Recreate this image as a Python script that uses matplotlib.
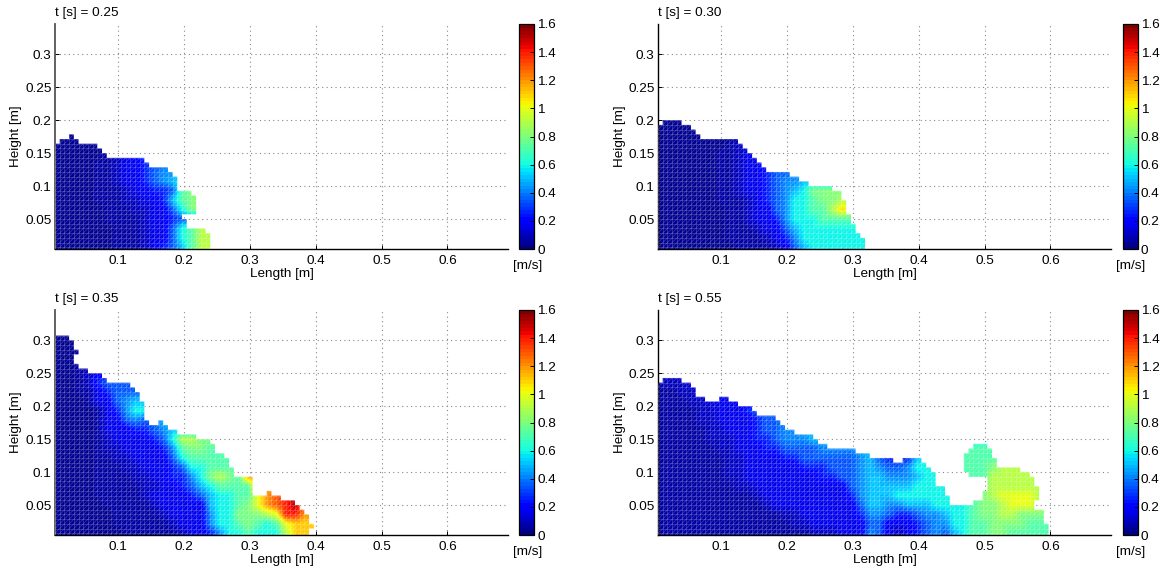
import numpy as np
import matplotlib
matplotlib.use("Agg")
import matplotlib.pyplot as plt
from matplotlib.collections import LineCollection
from matplotlib.colors import ListedColormap
from matplotlib.path import Path

plt.rcParams['font.family'] = ['Liberation Sans', 'DejaVu Sans']
FS = 9.7

# each character of a speed row is one estimated speed class
SPEED_CODES = '0123456789abcdefgh'
SPEED_LEVELS = [.03, .06, .1, .16, .25, .35, .42, .5, .6, .72, .8, .9, 1.0, 1.1, 1.2, 1.3, 1.4, 1.5]

TITLES = ['t [s] = 0.25', 't [s] = 0.30', 't [s] = 0.35', 't [s] = 0.55']
X_TICKS = [.1, .2, .3, .4, .5, .6]
X_LABELS = ['0.1', '0.2', '0.3', '0.4', '0.5', '0.6']
Y_TICKS = [.05, .1, .15, .2, .25, .3]
Y_LABELS = ['0.05', '0.1', '0.15', '0.2', '0.25', '0.3']
CB_TICKS = [0, .2, .4, .6, .8, 1, 1.2, 1.4, 1.6]
CB_LABELS = ['0', '0.2', '0.4', '0.6', '0.8', '1', '1.2', '1.4', '1.6']

# free-surface height per run of columns (in cells)
WIDTHS_025 = [1,2,1,1,4,1,1,8,1,4,1,1,3,1,2,1]
TOPS_025 = [23,24,25,24,23,22,21,20,19,18,17,16,13,12,5,4]
HOLES_025 = [(27,28,7,8),(28,30,5,8)]
SPEED_025 = [
 "00",
 "00000",
 "0000011345",
 "0000112334556",
 "0000112334566",
 "00001123345678",
 "00001112334459a",
 "00001112233479a",
 "00000111223358a",
 "00000111123345",
 "000000111233589bb",
 "000000111233589bb",
 "000000111234579bb",
]

WIDTHS_030 = [1,4,2,1,1,8,1,1,1,1,1,1,5,2,2,5,2,1,1,1,1,1]
TOPS_030 = [27,28,27,26,25,24,23,22,21,20,19,18,17,16,15,14,13,11,8,6,4,3]
HOLES_030 = []
SPEED_030 = [
 "000",
 "000000",
 "00000",
 "0000000122",
 "00000011233",
 "000000112334",
 "0000001123345566",
 "00000011233456677",
 "0000001123345678aaaa",
 "00000011123456889aab",
 "000000011233568899bdb",
 "000000011233468889999",
 "0000000111233578888888",
 "0000000111123468888888",
 "0000000011112357888888",
]

WIDTHS_035 = [3,1,1,2,3,1,5,1,1,1,1,2,1,1,2,4,3,1,2,1,1,4,3,1,2,3,1,1,1,1]
TOPS_035 = [43,42,40,36,35,34,33,32,31,29,25,24,25,24,23,22,21,20,18,17,15,13,9,10,9,8,7,6,5,3]
HOLES_035 = [(4,5,37,39),(54,55,0,2)]
SPEED_035 = [
 "00",
 "00",
 "001",
 "001",
 "00123",
 "001245",
 "001134555",
 "0001335677",
 "0000134688",
 "000013356557",
 "0000133344567",
 "00001233334" "58bbaa",
 "000012233334" "69aa99",
 "0000112233335899999",
 "0000111223334588999",
 "000011112233446" "8aba9e",
 "000011111223345" "789999ee",
 "00001111123333" "4578899cefgh",
 "00000111112333337" "889acefghf",
 "00000011111233336" "88aaabcgge",
 "00000011111123336" "889a989cddd",
 "00000001111112334" "688988" "8bdd",
]

WIDTHS_055 = [1,4,2,1,2,3,2,2,3,1,4,1,1,2,4,1,2,6,3,5,2,4,1,1,1,2,1,3,1,1,3,1,1,5,2,1,1,1,1]
TOPS_055 = [33,34,33,32,30,29,30,29,28,27,26,25,24,23,22,21,20,19,18,17,16,17,16,15,14,11,9,7,18,19,20,19,17,15,14,13,11,6,3]
HOLES_055 = [(65,66,7,14),(66,67,7,13),(67,69,8,13),(69,70,10,13),(80,81,6,8)]
SPEED_055 = [
 "2223",
 "11222333",
 "1112233333",
 "1111223334555",
 "11112233334556",
 "11111223334556677",
 "111112223344566677",
 "11111122333445555666677" "7777777799999",
 "11111112233334455555567544478" "88999999",
 "111111122333333444555676556888" "89999abbbb",
 "11111112233333333445567766678888999bbbbbb",
 "11111111223333333333567777788888" "99abbbbbb",
 "1111111111233333333346777888888899abccccb",
 "11111111111233333333357766777888" "89aabcccba",
 "1111111111111223333334" "66544566788" "9aabbaaaa",
 "11111111111111223333335533345668899aaaa999",
 "1111111111111111222333" "65323456" "57899aa99999",
]

PANELS = [
    (WIDTHS_025, TOPS_025, HOLES_025, SPEED_025),
    (WIDTHS_030, TOPS_030, HOLES_030, SPEED_030),
    (WIDTHS_035, TOPS_035, HOLES_035, SPEED_035),
    (WIDTHS_055, TOPS_055, HOLES_055, SPEED_055),
]

CELL = 1 / 140
X0, X1 = .0043, .692
Y0, Y1 = .0045, .346
W, H = 1164, 572
LEFTS = [55, 658]
CB_LEFTS = [519.3, 1123]
BOTTOMS = [249, 535]
AX_W, AX_H = 453, 225

jet = plt.get_cmap('jet')
cmap = ListedColormap(jet(np.linspace(0, 1, 64)))
levels = dict(zip(SPEED_CODES, SPEED_LEVELS))


def speed_grid(rows):
    width = max(len(r) for r in rows)
    grid = [[levels[c] for c in r.ljust(width, r[-1])] for r in rows]
    return np.array(grid)[::-1]


def cell_mask(widths, tops, holes):
    col_tops = np.repeat(tops, widths)
    mask = np.zeros((max(tops), len(col_tops)), bool)
    for c, t in enumerate(col_tops):
        mask[:t, c] = True
    for c0, c1, k0, k1 in holes:
        mask[k0:k1, c0:c1] = False
    return mask


def rect(c, k):
    x, y = X0 + c * CELL, k * CELL
    return Path([(x, y), (x + CELL, y), (x + CELL, y + CELL), (x, y + CELL), (x, y)], closed=True)


fig = plt.figure(figsize=(W / 100, H / 100), dpi=100)
for i, (widths, tops, holes, rows) in enumerate(PANELS):
    col, row = i % 2, i // 2
    l, b = LEFTS[col], BOTTOMS[row]
    ax = fig.add_axes([l / W, (H - b) / H, AX_W / W, AX_H / H])
    grid = speed_grid(rows)
    ny, nx = grid.shape
    im = ax.imshow(grid, origin='lower', cmap=cmap, vmin=0, vmax=1.6, aspect='auto',
                   interpolation='bilinear', zorder=2,
                   extent=[X0, X0 + 2 * nx * CELL, 0, 2 * ny * CELL])
    ax.set_xlim(X0, X1)
    ax.set_ylim(Y0, Y1)
    mask = cell_mask(widths, tops, holes)
    ks, cs = np.nonzero(mask)
    clip = Path.make_compound_path(*[rect(c, k) for c, k in zip(cs, ks)])
    im.set_clip_path(clip, transform=ax.transData)
    segs = []
    for c, k in zip(cs, ks):
        x, y = X0 + c * CELL, k * CELL
        segs += [[(x, y), (x + CELL, y)], [(x, y), (x, y + CELL)],
                 [(x, y), (x + CELL, y + CELL)]]
        if c + 1 >= mask.shape[1] or not mask[k, c + 1]:
            segs.append([(x + CELL, y), (x + CELL, y + CELL)])
        if k + 1 >= mask.shape[0] or not mask[k + 1, c]:
            segs.append([(x, y + CELL), (x + CELL, y + CELL)])
    ax.add_collection(LineCollection(segs, colors=[(1, 1, 1, .22)], linewidths=.55, zorder=3))

    ax.set_xticks(X_TICKS, X_LABELS)
    ax.set_yticks(Y_TICKS, Y_LABELS)
    ax.tick_params(direction='in', length=3, width=.7, pad=2.5, labelsize=FS)
    ax.tick_params(axis='x', pad=4)
    ax.grid(True, color='#888888', ls=(0, (1, 3)), lw=.8)
    ax.set_axisbelow(True)
    for s in ('top', 'right'):
        ax.spines[s].set_visible(False)
    ax.spines['bottom'].set_linewidth(1)
    ax.spines['left'].set_linewidth(1.3 if col == 0 else 1)
    ax.spines['left'].set_color('#555555' if col == 0 else 'black')
    ax.set_xlabel('Length [m]', fontsize=FS)
    ax.xaxis.set_label_coords(.5, -25.5 / AX_H)
    ax.xaxis.label.set_va('center')
    ax.set_ylabel('Height [m]', fontsize=FS)
    ax.yaxis.set_label_coords(-38.5 / AX_W, .5)
    ax.yaxis.label.set_va('center')
    fig.text(l / W, (H - (b - 236)) / H, TITLES[i], va='center', ha='left', fontsize=FS)

    cax = fig.add_axes([CB_LEFTS[col] / W, (H - b) / H, 15 / W, AX_H / H])
    cb = fig.colorbar(im, cax=cax)
    cb.set_ticks(CB_TICKS, labels=CB_LABELS)
    cax.tick_params(direction='in', length=3, width=.7, pad=2, labelsize=FS)
    cb.outline.set_linewidth(.9)
    fig.text((CB_LEFTS[col] + 8) / W, (H - (b + 16.5)) / H, '[m/s]', ha='center', va='center', fontsize=FS)

fig.savefig('out.png', dpi=100)
